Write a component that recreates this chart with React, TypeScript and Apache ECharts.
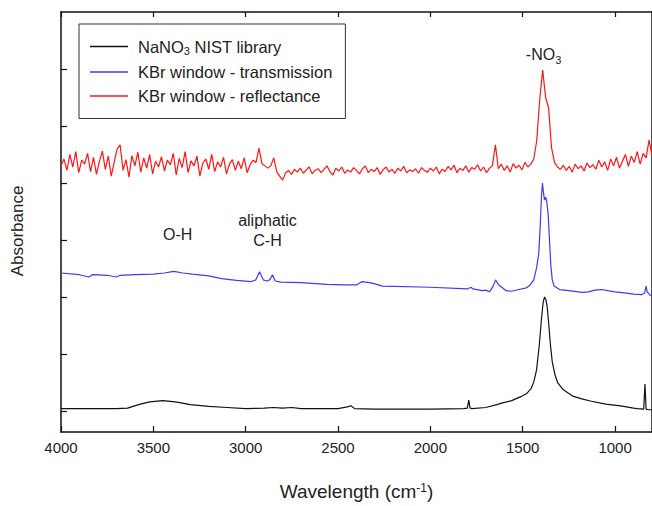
import React, { useEffect, useRef } from 'react';
import * as echarts from 'echarts';

// ---- axis definitions ----
const X_TICKS = [4000, 3500, 3000, 2500, 2000, 1500, 1000];
const Y_TICKS = [0, 1, 2, 3, 4, 5, 6];
const X_MIN = 800;
const X_MAX = 4000;
const Y_MIN = -0.37;
const Y_MAX = 7;

const SERIES_NAMES = ['NaNO3 NIST library', 'KBr window - transmission', 'KBr window - reflectance'];

// ---- NaNO3 NIST library (black) ----
const blackWn = [4000, 3700, 3640, 3580, 3520, 3450, 3380, 3300, 3200, 3100,
  3000, 2900, 2850, 2800, 2750, 2700, 2500, 2450, 2430, 2410,
  2300, 2000, 1820, 1800, 1792, 1785, 1775, 1700, 1640, 1610,
  1560, 1510, 1480, 1455, 1440, 1425, 1410, 1400, 1390, 1382,
  1375, 1368, 1360, 1350, 1340, 1325, 1310, 1280, 1230, 1180,
  1128, 1050, 970, 900, 880, 845, 838, 832, 820, 800];
const blackAbs = [0.04, 0.04, 0.05, 0.11, 0.16, 0.18, 0.16, 0.11, 0.08, 0.06,
  0.04, 0.05, 0.06, 0.05, 0.06, 0.04, 0.04, 0.07, 0.09, 0.04,
  0.03, 0.03, 0.04, 0.05, 0.19, 0.05, 0.04, 0.06, 0.11, 0.14,
  0.18, 0.25, 0.30, 0.39, 0.51, 0.72, 1.16, 1.56, 1.89, 2.00,
  1.96, 1.84, 1.56, 1.16, 0.86, 0.63, 0.49, 0.37, 0.26, 0.21,
  0.17, 0.12, 0.09, 0.05, 0.04, 0.03, 0.47, 0.03, 0.02, 0.02];

// ---- KBr window - transmission (blue) ----
const blueWn = [4000, 3900, 3850, 3830, 3750, 3700, 3680, 3600, 3500, 3440,
  3390, 3340, 3290, 3200, 3130, 3050, 2970, 2945, 2925, 2905,
  2885, 2870, 2855, 2840, 2810, 2700, 2560, 2470, 2400, 2370,
  2330, 2300, 2260, 2000, 1800, 1780, 1770, 1720, 1700, 1680,
  1660, 1647, 1630, 1610, 1590, 1560, 1520, 1480, 1460, 1440,
  1425, 1413, 1405, 1398, 1393, 1388, 1382, 1376, 1370, 1362,
  1355, 1348, 1340, 1330, 1300, 1250, 1180, 1143, 1110, 1072,
  1040, 1000, 950, 900, 857, 840, 832, 826, 810, 800];
const blueAbs = [2.42, 2.39, 2.35, 2.39, 2.38, 2.35, 2.38, 2.39, 2.40, 2.42,
  2.45, 2.42, 2.40, 2.37, 2.32, 2.29, 2.27, 2.30, 2.44, 2.30,
  2.28, 2.30, 2.39, 2.28, 2.26, 2.25, 2.22, 2.21, 2.21, 2.27,
  2.25, 2.23, 2.19, 2.17, 2.14, 2.17, 2.14, 2.11, 2.12, 2.09,
  2.19, 2.30, 2.21, 2.16, 2.11, 2.10, 2.13, 2.16, 2.21, 2.30,
  2.51, 2.77, 3.26, 3.79, 4.00, 3.84, 3.70, 3.75, 3.68, 3.44,
  3.00, 2.56, 2.30, 2.19, 2.13, 2.11, 2.08, 2.09, 2.12, 2.13,
  2.11, 2.09, 2.07, 2.05, 2.04, 2.07, 2.19, 2.09, 2.03, 2.02];

// ---- KBr window - reflectance (red), sampled every 16 cm-1 from 4000 down to 800 ----
const RED_START = 4000;
const RED_STEP = 16;
const redAbs = [
  4.30, 4.42, 4.22, 4.50, 4.28, 4.55, 4.18, 4.40, 4.33, 4.52,
  4.20, 4.45, 4.15, 4.38, 4.56, 4.24, 4.47, 4.12, 4.36, 4.60,
  4.67, 4.22, 4.41, 4.10, 4.48, 4.30, 4.54, 4.19, 4.44, 4.26,
  4.50, 4.16, 4.38, 4.28, 4.46, 4.21, 4.40, 4.32, 4.52, 4.14,
  4.43, 4.27, 4.55, 4.18, 4.39, 4.30, 4.47, 4.12, 4.35, 4.42,
  4.24, 4.50, 4.20, 4.37, 4.28, 4.45, 4.16, 4.33, 4.41, 4.22,
  4.38, 4.25, 4.44, 4.18, 4.32, 4.40, 4.36, 4.61, 4.34, 4.30,
  4.26, 4.30, 4.44, 4.20, 4.12, 4.05, 4.18, 4.22, 4.15, 4.24,
  4.19, 4.26, 4.17, 4.23, 4.28, 4.16, 4.22, 4.25, 4.18, 4.24,
  4.30, 4.20, 4.14, 4.26, 4.21, 4.28, 4.17, 4.23, 4.19, 4.27,
  4.22, 4.16, 4.25, 4.30, 4.18, 4.24, 4.20, 4.27, 4.15, 4.23,
  4.28, 4.19, 4.24, 4.17, 4.26, 4.21, 4.29, 4.18, 4.23, 4.20,
  4.25, 4.17, 4.27, 4.22, 4.19, 4.26, 4.21, 4.28, 4.16, 4.24,
  4.20, 4.29, 4.23, 4.31, 4.18, 4.26, 4.22, 4.30, 4.19, 4.27,
  4.24, 4.32, 4.21, 4.28, 4.18, 4.26, 4.30, 4.67, 4.25, 4.33,
  4.22, 4.30, 4.19, 4.34, 4.26, 4.31, 4.23, 4.36, 4.28, 4.33,
  4.42, 4.75, 5.46, 5.98, 5.50, 5.32, 4.62, 4.36, 4.28, 4.24,
  4.31, 4.22, 4.29, 4.19, 4.33, 4.25, 4.30, 4.21, 4.35, 4.27,
  4.32, 4.24, 4.40, 4.28, 4.37, 4.22, 4.42, 4.30, 4.45, 4.26,
  4.38, 4.50, 4.29, 4.47, 4.36, 4.55, 4.33, 4.52, 4.44, 4.75, 4.48,
];

// ---- annotations (wavenumber, absorbance) ----
const ANNOTATIONS = [
  { text: '-NO{sub|3}', wn: 1387, abs: 6.25 },
  { text: 'O-H', wn: 3368, abs: 3.1 },
  { text: 'aliphatic\nC-H', wn: 2882, abs: 3.16 },
];

const SANS = "'Liberation Sans', Arial, sans-serif";
const COLORS = ['#111111', '#3c3cf2', '#ff1414'];
const FRAME = '#111111';

const zip = (xs: number[], ys: number[]) => xs.map((x, i) => [x, ys[i]]);
const redWn = redAbs.map((_, i) => RED_START - RED_STEP * i);

export default function App() {
  const ref = useRef<HTMLDivElement>(null);

  useEffect(() => {
    if (!ref.current) return;
    const chart = echarts.init(ref.current, undefined, { renderer: 'svg' });

    const frameAxisX = (position: 'bottom' | 'top', showLabels: boolean, tickLen: number) => ({
      type: 'value',
      position,
      min: X_MIN,
      max: X_MAX,
      inverse: true,
      axisLine: { show: true, onZero: false, lineStyle: { color: FRAME, width: 1.5 } },
      axisTick: { show: true, inside: true, length: tickLen, customValues: X_TICKS, lineStyle: { color: FRAME, width: 1.2 } },
      axisLabel: {
        show: showLabels,
        customValues: X_TICKS,
        formatter: (v: number) => String(v),
        margin: 8,
        fontFamily: SANS,
        fontSize: 15,
        color: '#222',
      },
      splitLine: { show: false },
    });

    const series = [
      { data: zip(blackWn, blackAbs) },
      { data: zip(blueWn, blueAbs) },
      { data: zip(redWn, redAbs) },
    ].map((s, i) => ({
      name: SERIES_NAMES[i],
      type: 'line',
      data: s.data,
      showSymbol: false,
      symbol: 'none',
      color: COLORS[i],
      lineStyle: { color: COLORS[i], width: 1.2 },
      z: 3 + i,
    })) as any[];

    series[0].markPoint = {
      symbol: 'circle',
      symbolSize: 0,
      silent: true,
      itemStyle: { color: 'transparent' },
      label: {
        show: true,
        position: 'inside',
        color: '#222',
        fontFamily: SANS,
        fontSize: 16,
        lineHeight: 20,
        rich: { sub: { fontSize: 11, fontFamily: SANS, color: '#222', lineHeight: 22, verticalAlign: 'bottom' } },
      },
      data: ANNOTATIONS.map((a) => ({ coord: [a.wn, a.abs], label: { formatter: a.text } })),
    };

    chart.setOption({
      animation: false,
      backgroundColor: '#ffffff',
      grid: { left: 61, right: -2, top: 12, bottom: 74, containLabel: false },
      xAxis: [
        {
          ...frameAxisX('bottom', true, 6),
          name: 'Wavelength (cm{sup|-1})',
          nameLocation: 'middle',
          nameGap: 50,
          nameTextStyle: {
            fontFamily: SANS,
            fontSize: 19,
            color: '#222',
            rich: { sup: { fontFamily: SANS, fontSize: 12, color: '#222', verticalAlign: 'top', lineHeight: 12 } },
          },
        },
        frameAxisX('top', false, 5),
      ],
      yAxis: [
        {
          type: 'value',
          position: 'left',
          min: Y_MIN,
          max: Y_MAX,
          axisLine: { show: true, onZero: false, lineStyle: { color: FRAME, width: 1.5 } },
          axisTick: { show: true, inside: true, length: 6, customValues: Y_TICKS, lineStyle: { color: FRAME, width: 1.2 } },
          axisLabel: { show: false },
          splitLine: { show: false },
        },
        {
          type: 'value',
          position: 'right',
          min: Y_MIN,
          max: Y_MAX,
          axisLine: { show: true, onZero: false, lineStyle: { color: FRAME, width: 1.5 } },
          axisTick: { show: false },
          axisLabel: { show: false },
          splitLine: { show: false },
        },
      ],
      legend: {
        data: SERIES_NAMES,
        orient: 'vertical',
        left: 79,
        top: 24,
        padding: [14, 13, 14, 11],
        borderColor: '#333',
        borderWidth: 1,
        backgroundColor: '#ffffff',
        icon: 'rect',
        itemWidth: 38,
        itemHeight: 1.5,
        itemGap: 7,
        selectedMode: false,
        formatter: (name: string) => (name === SERIES_NAMES[0] ? 'NaNO{sub|3} NIST library' : name),
        textStyle: {
          fontFamily: SANS,
          fontSize: 16.5,
          color: '#222',
          padding: [0, 0, 0, 5],
          rich: { sub: { fontFamily: SANS, fontSize: 11, color: '#222', verticalAlign: 'bottom', lineHeight: 20 } },
        },
      },
      graphic: [
        {
          type: 'text',
          x: 17,
          y: 231,
          rotation: Math.PI / 2,
          style: {
            text: 'Absorbance',
            fontFamily: SANS,
            fontSize: 17,
            fill: '#222',
            textAlign: 'center',
            textVerticalAlign: 'middle',
          },
        },
      ],
      series,
    });

    return () => chart.dispose();
  }, []);

  return (
    <div
      ref={ref}
      style={{ position: 'fixed', left: 0, top: 0, width: 652, height: 506, background: '#fff' }}
    />
  );
}
